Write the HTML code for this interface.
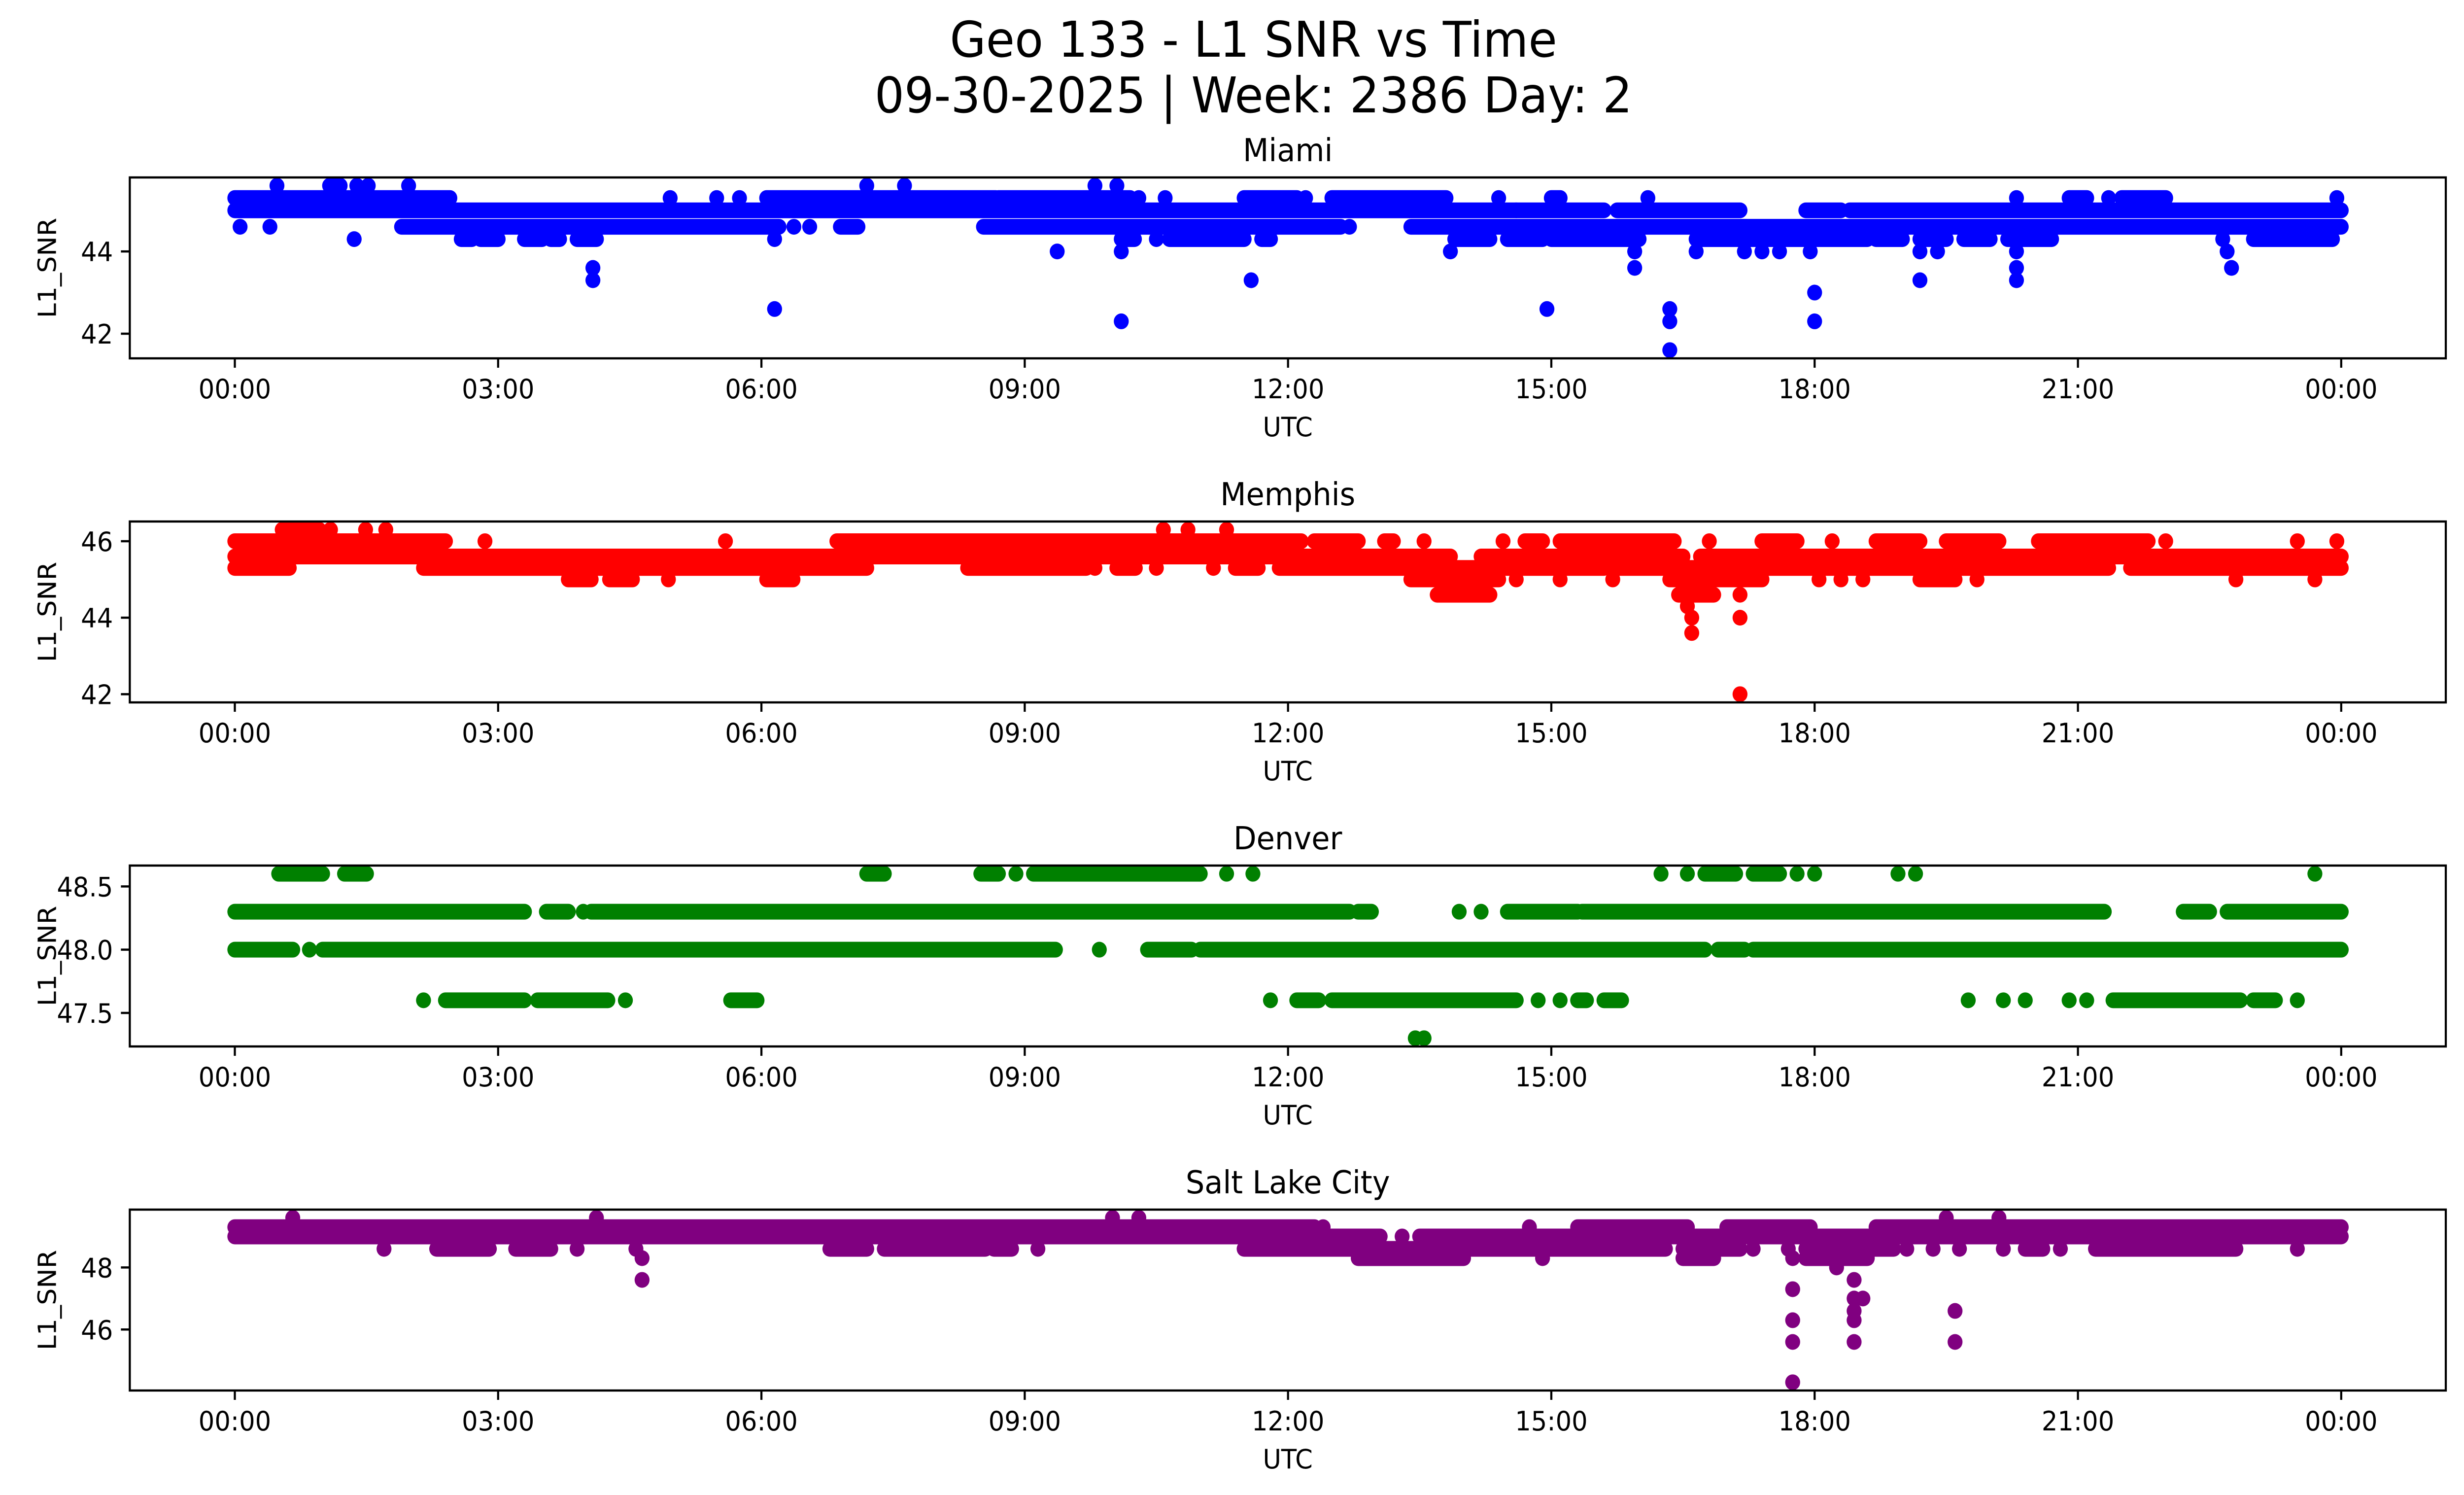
<!DOCTYPE html>
<html><head><meta charset="utf-8"><title>Geo 133 - L1 SNR vs Time</title>
<style>
html,body{margin:0;padding:0;background:#fff;overflow:hidden;width:100%;height:100%;}
svg{display:block;width:100vw;height:100vh;font-family:"DejaVu Sans","Liberation Sans",sans-serif;}
</style></head>
<body>
<svg id="chart" xmlns="http://www.w3.org/2000/svg" viewBox="0 0 5278 3033" preserveAspectRatio="none">
<rect x="0" y="0" width="5278" height="3033" fill="#fff"/>
<text x="2685" y="115" font-size="100" text-anchor="middle">Geo 133 - L1 SNR vs Time</text>
<text x="2685" y="228" font-size="100" text-anchor="middle">09-30-2025 | Week: 2386 Day: 2</text>
<g id="panels"></g>
</svg>
<script>
// ---- data ----
const stations = ["Miami", "Memphis", "Denver", "Salt Lake City"];
const colors = ["#0000ff", "#ff0000", "#008000", "#800080"];
const xTickLabels = ["00:00","03:00","06:00","09:00","12:00","15:00","18:00","21:00","00:00"];
const xTickHours = [0,3,6,9,12,15,18,21,24];
const yTicksMiami = [42, 44];
const yTicksMemphis = [42, 44, 46];
const yTicksDenver = [47.5, 48.0, 48.5];
const yTicksSLC = [46, 48];
const yTickText = [["42","44"],["42","44","46"],["47.5","48.0","48.5"],["46","48"]];
// bands: [value, startHour, endHour]
const miamiBands = [
[45.6,0.48,0.48],[45.6,1.08,1.2],[45.6,1.39,1.39],[45.6,1.52,1.52],[45.6,1.98,1.98],[45.6,7.2,7.2],[45.6,7.63,7.63],[45.6,9.8,9.8],[45.6,10.05,10.05],
[45.3,0,2.45],[45.3,4.96,4.96],[45.3,5.49,5.49],[45.3,5.75,5.75],[45.3,6.06,8.67],[45.3,8.7,10.2],[45.3,10.3,10.3],[45.3,10.6,10.6],[45.3,11.5,12.1],[45.3,12.2,12.2],[45.3,12.5,13.8],[45.3,14.4,14.4],[45.3,15.0,15.1],[45.3,16.1,16.1],[45.3,20.3,20.3],[45.3,20.9,21.1],[45.3,21.35,21.35],[45.3,21.5,22.0],[45.3,23.95,23.95],
[45.0,0,14.6],[45.0,14.6,15.6],[45.0,15.75,17.15],[45.0,17.9,18.3],[45.0,18.4,24],
[44.6,0.06,0.06],[44.6,0.4,0.4],[44.6,1.9,6.2],[44.6,6.37,6.37],[44.6,6.55,6.55],[44.6,6.9,7.1],[44.6,8.53,12.6],[44.6,12.7,12.7],[44.6,13.4,24],
[44.3,1.36,1.36],[44.3,2.58,2.7],[44.3,2.8,3.0],[44.3,3.3,3.5],[44.3,3.6,3.7],[44.3,3.9,4.12],[44.3,6.15,6.15],[44.3,10.1,10.25],[44.3,10.5,10.5],[44.3,10.65,11.5],[44.3,11.7,11.8],[44.3,13.9,14.3],[44.3,14.5,14.9],[44.3,15.0,16.0],[44.3,16.65,18.6],[44.3,18.7,19.0],[44.3,19.2,19.5],[44.3,19.7,20.0],[44.3,20.2,20.7],[44.3,22.65,22.65],[44.3,23.0,23.9]
];
const miamiPoints = [
[9.37,44.0],[10.1,44.0],[13.85,44.0],[15.95,44.0],[16.65,44.0],[17.2,44.0],[17.4,44.0],[17.6,44.0],[17.95,44.0],[19.2,44.0],[19.4,44.0],[20.3,44.0],[22.7,44.0],
[4.08,43.6],[15.95,43.6],[20.3,43.6],[22.75,43.6],
[4.08,43.3],[11.58,43.3],[19.2,43.3],[20.3,43.3],[18.0,43.0],
[6.15,42.6],[14.95,42.6],[16.35,42.6],[10.1,42.3],[16.35,42.3],[18.0,42.3],[16.35,41.6]
];
const memphisBands = [
[46.3,0.54,0.96],[46.3,1.09,1.09],[46.3,1.49,1.49],[46.3,1.72,1.72],[46.3,10.58,10.58],[46.3,10.86,10.86],[46.3,11.3,11.3],
[46.0,0,2.4],[46.0,2.85,2.85],[46.0,5.59,5.59],[46.0,6.86,12.15],[46.0,12.3,12.8],[46.0,13.1,13.2],[46.0,13.55,13.55],[46.0,14.45,14.45],[46.0,14.7,14.9],[46.0,15.1,16.4],[46.0,16.8,16.8],[46.0,17.4,17.8],[46.0,18.2,18.2],[46.0,18.7,19.2],[46.0,19.5,20.1],[46.0,20.55,21.8],[46.0,22.0,22.0],[46.0,23.5,23.5],[46.0,23.95,23.95],
[45.6,0,13.85],[45.6,14.2,16.5],[45.6,16.7,24],
[45.3,0,0.62],[45.3,2.15,7.2],[45.3,8.35,9.7],[45.3,9.8,9.8],[45.3,10.05,10.26],[45.3,10.5,10.5],[45.3,11.15,11.15],[45.3,11.4,11.66],[45.3,11.9,15.6],[45.3,15.7,21.35],[45.3,21.6,24],
[45.0,3.8,4.06],[45.0,4.27,4.53],[45.0,4.94,4.94],[45.0,6.06,6.36],[45.0,13.4,14.4],[45.0,14.6,14.6],[45.0,15.1,15.1],[45.0,15.7,15.7],[45.0,16.35,17.4],[45.0,18.05,18.05],[45.0,18.3,18.3],[45.0,18.55,18.55],[45.0,19.2,19.6],[45.0,19.85,19.85],[45.0,22.8,22.8],[45.0,23.7,23.7],
[44.6,13.7,14.3],[44.6,16.45,16.85],[44.6,17.15,17.15]
];
const memphisPoints = [[16.55,44.3],[16.6,44.0],[17.15,44.0],[16.6,43.6],[17.15,42.0]];
const denverBands = [
[48.6,0.5,1.0],[48.6,1.25,1.5],[48.6,7.2,7.4],[48.6,8.5,8.7],[48.6,8.9,8.9],[48.6,9.1,11.0],[48.6,11.3,11.3],[48.6,11.6,11.6],[48.6,16.25,16.25],[48.6,16.55,16.55],[48.6,16.75,17.1],[48.6,17.3,17.6],[48.6,17.8,17.8],[48.6,18.0,18.0],[48.6,18.95,18.95],[48.6,19.15,19.15],[48.6,23.7,23.7],
[48.3,0,3.3],[48.3,3.55,3.8],[48.3,3.97,3.97],[48.3,4.06,12.7],[48.3,12.8,12.95],[48.3,13.95,13.95],[48.3,14.2,14.2],[48.3,14.5,15.3],[48.3,15.35,21.3],[48.3,22.2,22.5],[48.3,22.7,24],
[48.0,0,0.66],[48.0,0.85,0.85],[48.0,1.0,9.35],[48.0,9.85,9.85],[48.0,10.4,10.9],[48.0,11.0,16.75],[48.0,16.9,17.2],[48.0,17.3,24],
[47.6,2.15,2.15],[47.6,2.4,3.3],[47.6,3.45,4.25],[47.6,4.45,4.45],[47.6,5.65,5.95],[47.6,11.8,11.8],[47.6,12.1,12.35],[47.6,12.5,14.6],[47.6,14.85,14.85],[47.6,15.1,15.1],[47.6,15.3,15.4],[47.6,15.6,15.8],[47.6,19.75,19.75],[47.6,20.15,20.15],[47.6,20.4,20.4],[47.6,20.9,20.9],[47.6,21.1,21.1],[47.6,21.4,22.85],[47.6,23.0,23.25],[47.6,23.5,23.5]
];
const denverPoints = [[13.45,47.3],[13.55,47.3]];
const slcBands = [
[49.6,0.66,0.66],[49.6,4.12,4.12],[49.6,10.0,10.0],[49.6,10.3,10.3],[49.6,19.5,19.5],[49.6,20.1,20.1],
[49.3,0,12.3],[49.3,12.4,12.4],[49.3,14.75,14.75],[49.3,15.3,16.55],[49.3,17.0,17.95],[49.3,18.7,24],
[49.0,0,13.05],[49.0,13.3,13.3],[49.0,13.5,17.9],[49.0,18.0,24],
[48.6,1.7,1.7],[48.6,2.3,2.9],[48.6,3.2,3.6],[48.6,3.9,3.9],[48.6,4.57,4.57],[48.6,6.78,7.2],[48.6,7.4,8.55],[48.6,8.65,8.85],[48.6,9.15,9.15],[48.6,11.5,16.3],[48.6,16.5,17.15],[48.6,17.3,17.3],[48.6,17.7,17.7],[48.6,17.9,18.9],[48.6,19.05,19.05],[48.6,19.35,19.35],[48.6,19.65,19.65],[48.6,20.15,20.15],[48.6,20.4,20.6],[48.6,20.8,20.8],[48.6,21.2,22.8],[48.6,23.5,23.5],
[48.3,4.64,4.64],[48.3,12.8,14.0],[48.3,14.9,14.9],[48.3,16.5,16.85],[48.3,17.75,17.75],[48.3,17.9,18.6]
];
const slcPoints = [
[4.64,47.6],[18.25,48.0],[18.45,47.6],[17.75,47.3],[18.45,47.0],[18.55,47.0],
[18.45,46.6],[19.6,46.6],[17.75,46.3],[18.45,46.3],[17.75,45.6],[18.45,45.6],[19.6,45.6],[17.75,44.3]
];
const allBands = [miamiBands, memphisBands, denverBands, slcBands];
const allPoints = [miamiPoints, memphisPoints, denverPoints, slcPoints];
const allYTicks = [yTicksMiami, yTicksMemphis, yTicksDenver, yTicksSLC];
const yDomains = [[41.4,45.8],[41.785,46.515],[47.235,48.665],[44.035,49.865]];

// ---- layout ----
const NS = "http://www.w3.org/2000/svg";
const AX_L = 278, AX_R = 5239, AX_H = 367;
const PANEL_TOPS = [360, 1058, 1756, 2454];
const X0 = 503, PX_PER_H = 188;
function xScale(h){ return X0 + h * PX_PER_H; }
function yScaleFor(i){
  const d = yDomains[i], top = PANEL_TOPS[i];
  return v => top + AX_H - (v - d[0]) / (d[1] - d[0]) * AX_H;
}
function mk(tag, attrs){ const e = document.createElementNS(NS, tag); for (const k in attrs) e.setAttribute(k, attrs[k]); return e; }

const root = document.getElementById("panels");
stations.forEach((name, i) => {
  const top = PANEL_TOPS[i], bot = top + AX_H, y = yScaleFor(i);
  const g = mk("g", {});
  
  
  root.appendChild(g);

  const clip = mk("clipPath", {id: "clip" + i});
  clip.appendChild(mk("rect", {x: AX_L, y: top, width: AX_R - AX_L, height: AX_H}));
  g.appendChild(clip);

  const marks = mk("g", {"clip-path": "url(#clip" + i + ")", fill: colors[i]});
  
  
  g.appendChild(marks);
  allBands[i].forEach(b => {
    const v = b[0], s = b[1], e = b[2];
    const yy = y(v);
    if (e > s) {
      const r = mk("rect", {x: xScale(s) - 16, y: yy - 16, width: xScale(e) - xScale(s) + 32, height: 32, rx: 16, ry: 16});
      
      
      marks.appendChild(r);
    } else {
      const c = mk("circle", {cx: xScale(s), cy: yy, r: 16});
      
      
      marks.appendChild(c);
    }
  });
  allPoints[i].forEach(p => {
    const c = mk("circle", {cx: xScale(p[0]), cy: y(p[1]), r: 16});
    
    
    marks.appendChild(c);
  });

  const frame = mk("rect", {x: AX_L, y: top, width: AX_R - AX_L, height: AX_H, fill: "none", stroke: "#000", "stroke-width": 4.5});
  
  
  g.appendChild(frame);

  xTickHours.forEach((h, k) => {
    const x = xScale(h);
    const t = mk("line", {x1: x, x2: x, y1: bot, y2: bot + 19, stroke: "#000", "stroke-width": 4.5});
    
    
    g.appendChild(t);
    const tx = mk("text", {x: x, y: bot + 81, "font-size": 54, "text-anchor": "middle"});
    tx.textContent = xTickLabels[k];
    
    
    g.appendChild(tx);
  });
  allYTicks[i].forEach((v, k) => {
    const yy = y(v);
    const t = mk("line", {x1: AX_L - 19, x2: AX_L, y1: yy, y2: yy, stroke: "#000", "stroke-width": 4.5});
    
    
    g.appendChild(t);
    const tx = mk("text", {x: AX_L - 36, y: yy + 20, "font-size": 54, "text-anchor": "end"});
    tx.textContent = yTickText[i][k];
    
    
    g.appendChild(tx);
  });

  const title = mk("text", {x: (AX_L + AX_R) / 2, y: top - 33, "font-size": 64, "text-anchor": "middle"});
  title.textContent = name;
  
  
  g.appendChild(title);

  const xl = mk("text", {x: (AX_L + AX_R) / 2, y: bot + 158, "font-size": 54, "text-anchor": "middle"});
  xl.textContent = "UTC";
  
  
  g.appendChild(xl);

  const cy = top + AX_H / 2;
  const yl = mk("text", {x: 120, y: cy, "font-size": 54, "text-anchor": "middle", transform: "rotate(-90 120 " + cy + ")"});
  yl.textContent = "L1_SNR";
  
  
  g.appendChild(yl);
});
</script>
</body></html>
